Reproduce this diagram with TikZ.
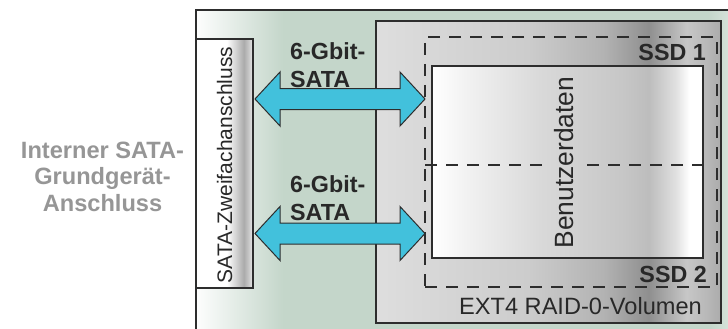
\documentclass[tikz,border=0pt]{standalone}
\usepackage{fontspec}
\setmainfont{Liberation Sans}
\usetikzlibrary{calc}

\definecolor{gbg}{RGB}{196,214,202}
\definecolor{arrowc}{RGB}{66,193,220}
\definecolor{edgec}{RGB}{45,45,45}
\definecolor{txtc}{RGB}{40,40,40}
\definecolor{lgray}{RGB}{150,150,150}

% stops between 25bp and 75bp map onto the path's bounding box
\pgfdeclarehorizontalshading{outershade}{100bp}{color(0bp)=(white); color(25bp)=(white!97!gbg); color(33bp)=(gbg); color(72bp)=(gbg); color(75bp)=(gbg!55!white); color(100bp)=(gbg!55!white)}
\pgfdeclarehorizontalshading{grayshade}{100bp}{color(0bp)=(black!13); color(25bp)=(black!13); color(47bp)=(black!20); color(58bp)=(black!30); color(64.5bp)=(black!44); color(70bp)=(black!22); color(73bp)=(black!28); color(75bp)=(black!33); color(100bp)=(black!33)}
\pgfdeclarehorizontalshading{whiteshade}{100bp}{color(0bp)=(white); color(25bp)=(white); color(31bp)=(black!5); color(45bp)=(black!15); color(60bp)=(black!22); color(65bp)=(black!26); color(70bp)=(black!12); color(72.5bp)=(white); color(75bp)=(white); color(100bp)=(white)}
\pgfdeclarehorizontalshading{satashade}{100bp}{color(0bp)=(white); color(25bp)=(white); color(52bp)=(white); color(67bp)=(black!33); color(71bp)=(black!22); color(75bp)=(black!8); color(100bp)=(black!8)}

\tikzset{
  boxframe/.style={draw=edgec, shade, inner sep=0pt, outer sep=0pt, anchor=north west},
  fatarrow/.style={draw=edgec, line width=1pt, fill=arrowc, line join=miter},
  dashline/.style={draw=edgec, line width=2.5pt, dash pattern=on 12pt off 9pt},
  boldlbl/.style={font=\bfseries\fontsize{23.3}{28.5}\selectfont, text=txtc, inner sep=0pt},
  plainlbl/.style={font=\fontsize{23.6}{28}\selectfont, text=txtc, inner sep=0pt},
}

\begin{document}
\begin{tikzpicture}[x=1pt, y=-1pt]
\useasboundingbox (0,0) rectangle (728,329);
\begin{scope}
\clip (0,0) rectangle (728,329);
% outer device box
\node[boxframe, line width=2.5pt, shading=outershade, minimum width=545pt, minimum height=335pt] (outer) at (196,10) {};
% EXT4 RAID-0 volume
\node[boxframe, line width=1.6pt, shading=grayshade, minimum width=345pt, minimum height=302pt] (vol) at (376,21) {};
% user data area
\node[boxframe, line width=2pt, shading=whiteshade, minimum width=271pt, minimum height=192pt] (data) at (432,66) {};
% dashed SSD region
\node[dashline, inner sep=0pt, outer sep=0pt, anchor=north west, minimum width=292pt, minimum height=250pt] (ssd) at (425,37) {};
\coordinate (midl) at (425,165);
\coordinate (midgl) at (546,165);
\coordinate (midgr) at (587,165);
\coordinate (midr) at (705,165);
\draw[dashline] (midl) -- (midgl);
\draw[dashline] (midgr) -- (midr);
% SATA dual connector
\node[boxframe, line width=2pt, shading=satashade, minimum width=57pt, minimum height=249pt] (sata) at (196,39) {};
\end{scope}

% double arrows
\coordinate (s1) at (255,99);
\coordinate (d1) at (425,99);
\coordinate (s2) at (255,233.5);
\coordinate (d2) at (425,233.5);
\foreach \a/\b in {s1/d1, s2/d2}{
  \draw[fatarrow] (\a) -- ++(25,-27) -- ++(0,16.5) -- ($(\b)+(-25,-10.5)$) -- ++(0,-16.5) -- (\b)
    -- ++(-25,27) -- ++(0,-16.5) -- ($(\a)+(25,10.5)$) -- ++(0,16.5) -- cycle;
}

% labels
\node[font=\bfseries\fontsize{23.6}{26.5}\selectfont, text=lgray, align=center, inner sep=0pt] (intern) at (102.5,176.5) {Interner SATA-\\Grundgerät-\\Anschluss};
\node[boldlbl, align=left, anchor=north west] (gb1) at (290,42) {6-Gbit-\\SATA};
\node[boldlbl, align=left, anchor=north west] (gb2) at (290,175) {6-Gbit-\\SATA};
\node[boldlbl, anchor=base east] (ssd1) at (706,60) {SSD 1};
\node[boldlbl, anchor=base east] (ssd2) at (707,282) {SSD 2};
\node[plainlbl, anchor=base east] (ext) at (702,314) {EXT4 RAID-0-Volumen};
\node[font=\fontsize{26.4}{30}\selectfont, text=txtc, inner sep=0pt, rotate=90, anchor=base] (ud) at (573,162.5) {Benutzerdaten};
\node[font=\fontsize{21}{25}\selectfont, text=txtc, inner sep=0pt, rotate=90, anchor=base] (zw) at (232,165) {SATA-Zweifachanschluss};
\end{tikzpicture}
\end{document}
